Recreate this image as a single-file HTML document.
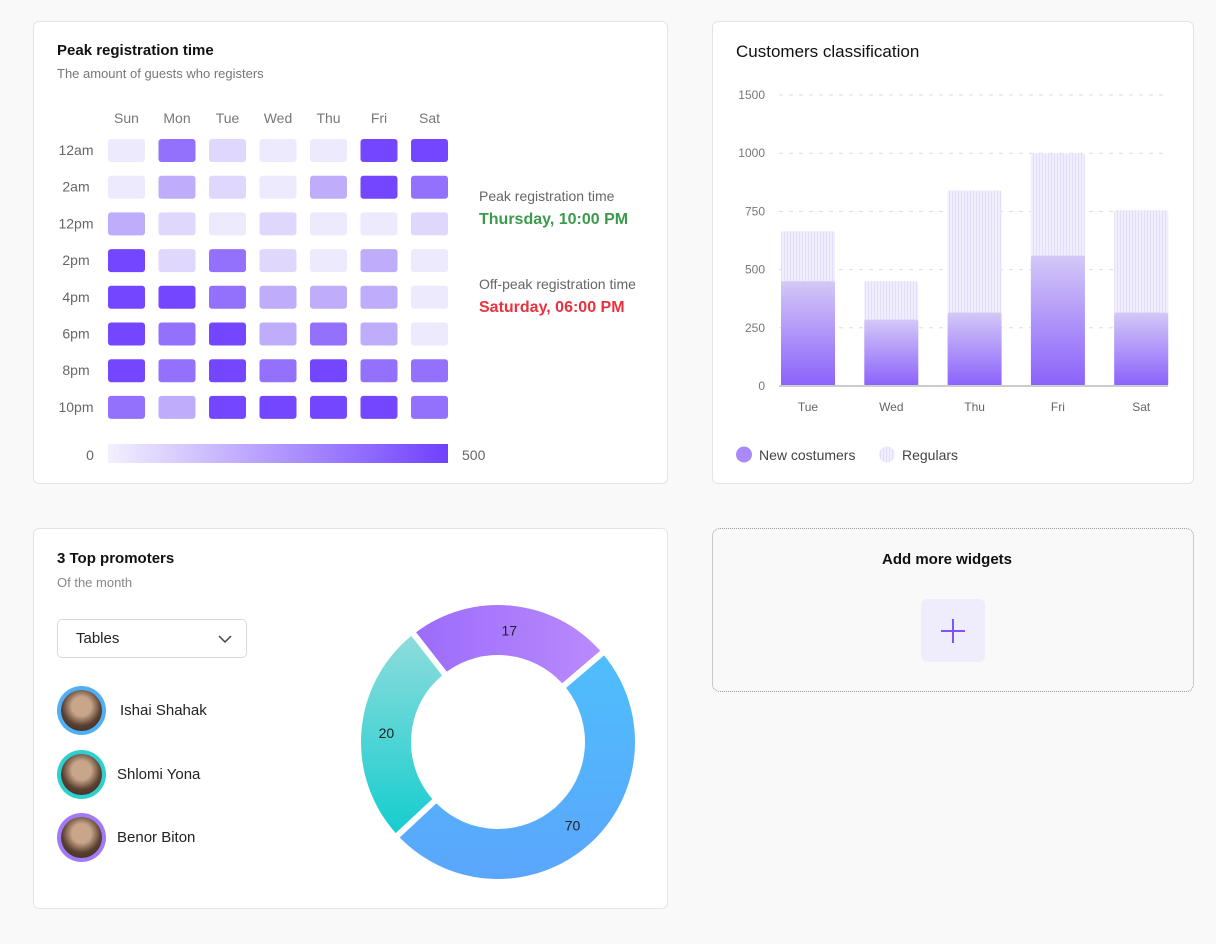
<!DOCTYPE html>
<html><head><meta charset="utf-8">
<style>
body{margin:0;width:1216px;height:944px;background:#f9f9f9;font-family:"Liberation Sans",sans-serif;position:relative;overflow:hidden}
.card{position:absolute;background:#fff;border:1px solid #e4e4e4;border-radius:6px;box-sizing:border-box}
.t{position:absolute;white-space:nowrap}
</style></head><body>
<div class="card" style="left:33px;top:21px;width:635px;height:463px"></div>
<div class="card" style="left:712px;top:21px;width:482px;height:463px"></div>
<div class="card" style="left:33px;top:528px;width:635px;height:381px"></div>
<div style="position:absolute;left:712px;top:528px;width:482px;height:164px;border:1.5px dotted #999;border-radius:8px;box-sizing:border-box"></div>

<div class="t" style="left:57px;top:42px;font-size:15px;font-weight:bold;color:#111">Peak registration time</div>
<div class="t" style="left:57px;top:66px;font-size:13px;color:#777">The amount of guests who registers</div>
<svg id="heat" style="position:absolute;left:0;top:0" width="500" height="480"></svg>
<div class="t" style="left:479px;top:188px;font-size:14px;color:#666">Peak registration time</div>
<div class="t" style="left:479px;top:211px;font-size:16px;font-weight:bold;color:#3c9a4d">Thursday, 10:00 PM</div>
<div class="t" style="left:479px;top:276px;font-size:14px;color:#666">Off-peak registration time</div>
<div class="t" style="left:479px;top:299px;font-size:16px;font-weight:bold;color:#e8323f">Saturday, 06:00 PM</div>

<div class="t" style="left:736px;top:42px;font-size:17px;color:#111">Customers classification</div>
<svg id="bars" style="position:absolute;left:700px;top:70px" width="500" height="410"></svg>

<div class="t" style="left:57px;top:550px;font-size:15px;font-weight:bold;color:#111">3 Top promoters</div>
<div class="t" style="left:57px;top:575px;font-size:13px;color:#888">Of the month</div>
<div style="position:absolute;left:57px;top:619px;width:190px;height:39px;border:1px solid #d8d8d8;border-radius:5px;box-sizing:border-box">
<span class="t" style="left:18px;top:10px;font-size:15px;color:#222">Tables</span>
<svg style="position:absolute;left:160px;top:14px" width="14" height="10"><path d="M1 2 L7 8 L13 2" stroke="#444" stroke-width="1.5" fill="none"/></svg></div>
<div id="people"></div>
<svg id="donut" style="position:absolute;left:340px;top:590px" width="320" height="310"></svg>

<div class="t" style="left:882px;top:551px;font-size:15px;font-weight:bold;color:#111">Add more widgets</div>
<div style="position:absolute;left:921px;top:599px;width:64px;height:63px;background:#efedfb;border-radius:6px">
<svg width="64" height="63"><path d="M32 20V44M20 32H44" stroke="#7b55f5" stroke-width="2"/></svg></div>

<script>
const NS="http://www.w3.org/2000/svg";
function mk(p,tag,a){const e=document.createElementNS(NS,tag);for(const k in a)e.setAttribute(k,a[k]);p.appendChild(e);return e;}
// Heatmap
const days=["Sun","Mon","Tue","Wed","Thu","Fri","Sat"];
const hours=["12am","2am","12pm","2pm","4pm","6pm","8pm","10pm"];
const heatRows=[
[100,400,200,100,100,500,500],
[100,300,200,100,300,500,400],
[300,200,100,200,100,100,200],
[500,200,400,200,100,300,100],
[500,500,400,300,300,300,100],
[500,400,500,300,400,300,100],
[500,400,500,400,500,400,400],
[400,300,500,500,500,500,400]];
const heatColors=["#eeeafd","#e0d7fd","#bfadfc","#9371fd","#7446ff"];
const hs=document.getElementById('heat');
const cx=i=>108+i*50.5, ry=j=>139+j*36.7;
days.forEach((d,i)=>{const t=mk(hs,'text',{x:cx(i)+18.5,y:123,'text-anchor':'middle','font-size':14,fill:'#777'});t.textContent=d;

});
hours.forEach((h,j)=>{const t=mk(hs,'text',{x:76,y:ry(j)+16,'text-anchor':'middle','font-size':14,fill:'#666'});t.textContent=h;

});
heatRows.forEach((row,j)=>row.forEach((v,i)=>{const lvl=Math.max(0,Math.min(4,Math.round(v/100)-1));
const r=mk(hs,'rect',{x:cx(i),y:ry(j),width:37,height:23,rx:3,fill:heatColors[lvl]});

}));
const lg=mk(hs,'defs',{});const gr=mk(lg,'linearGradient',{id:'hg'});mk(gr,'stop',{offset:0,'stop-color':'#f3f0fe'});mk(gr,'stop',{offset:1,'stop-color':'#7040ff'});
const sc=mk(hs,'rect',{x:108,y:444,width:340,height:19,fill:'url(#hg)'});


let t0=mk(hs,'text',{x:90,y:460,'text-anchor':'middle','font-size':14,fill:'#666'});t0.textContent="0";
let t1=mk(hs,'text',{x:462,y:460,'font-size':14,fill:'#666'});t1.textContent="500";

// Bar chart
const barCats=["Tue","Wed","Thu","Fri","Sat"];
const newCust=[450,285,315,560,315];
const regulars=[665,450,840,1000,755];
const yTicks=[0,250,500,750,1000,1500];
const bs=document.getElementById('bars');
const step=58.2;
const Y=v=>316-v/250*step, X=i=>81+i*83.3;
const TY=i=>316-i*step;
const bd=mk(bs,'defs',{});
const g1=mk(bd,'linearGradient',{id:'ng',x1:0,y1:0,x2:0,y2:1});mk(g1,'stop',{offset:0,'stop-color':'#d4c8f7'});mk(g1,'stop',{offset:1,'stop-color':'#8b62fb'});
const pt=mk(bd,'pattern',{id:'rp',width:3,height:4,patternUnits:'userSpaceOnUse'});mk(pt,'rect',{width:3,height:4,fill:'#f1eefd'});mk(pt,'rect',{width:1,height:4,fill:'#e3ddfb'});
yTicks.forEach((v,i)=>{const t=mk(bs,'text',{x:65,y:TY(i)+4,'text-anchor':'end','font-size':12,fill:'#777'});t.textContent=v;


if(i>0)mk(bs,'line',{x1:79,x2:468,y1:TY(i),y2:TY(i),stroke:'#ddd','stroke-dasharray':'4 6'});});
barCats.forEach((c,i)=>{
const r=mk(bs,'rect',{x:X(i),y:Y(regulars[i]),width:54,height:Y(0)-Y(regulars[i]),fill:'url(#rp)',rx:2});


const n=mk(bs,'rect',{x:X(i),y:Y(newCust[i]),width:54,height:Y(0)-Y(newCust[i]),fill:'url(#ng)',rx:2});


const t=mk(bs,'text',{x:X(i)+27,y:341,'text-anchor':'middle','font-size':12,fill:'#666'});t.textContent=c;

});
mk(bs,'line',{x1:79,x2:468,y1:Y(0),y2:Y(0),stroke:'#ccc','stroke-width':2});
mk(bs,'circle',{cx:44,cy:384.5,r:8,fill:'#a98af8'});
let l1=mk(bs,'text',{x:59,y:390,'font-size':14,fill:'#444'});l1.textContent="New costumers";


mk(bs,'circle',{cx:187,cy:384.5,r:8,fill:'url(#rp)'});
let l2=mk(bs,'text',{x:202,y:390,'font-size':14,fill:'#444'});l2.textContent="Regulars";



// Promoters
const names=["Ishai Shahak","Shlomi Yona","Benor Biton"];
const rings=["#4fb0f8","#2ecfcf","#a07af7"];
const pp=document.getElementById('people');
names.forEach((n,i)=>{const y=686+i*63.5;
const a=document.createElement('div');a.style.cssText=`position:absolute;left:57px;top:${y}px;width:49px;height:49px;border-radius:50%;background:${rings[i]};`;
a.innerHTML='<div style="position:absolute;left:4px;top:4px;width:41px;height:41px;border-radius:50%;background:radial-gradient(circle at 50% 40%,#c9a58a 0 30%,#5a4030 60%,#2a2320)"></div>';


pp.appendChild(a);
const s=document.createElement('div');s.className='t';s.textContent=n;s.style.cssText=`left:${i==0?120:117}px;top:${y+16}px;font-size:15px;color:#222`;


pp.appendChild(s);});

// Donut
const donutLabels=["17","70","20"];
const donutValues=[17,70,20];
const ds=document.getElementById('donut');
const dd=mk(ds,'defs',{});
const grads=[["#9c6cfb","#b98afd",1,0],["#4fbefb","#5aa6fd",0,1],["#16cdcf","#8edcdc",0,-1]];
grads.forEach((g,i)=>{const l=mk(dd,'linearGradient',{id:'dg'+i,x1:0,y1:0,x2:g[2]||0.0001,y2:g[3]});
if(g[3]<0){l.setAttribute('y1',1);l.setAttribute('y2',0);}
mk(l,'stop',{offset:0,'stop-color':g[0]});mk(l,'stop',{offset:1,'stop-color':g[1]});});
const C=[158,152],Ro=137,Ri=87,gap=3;
const w=donutValues.map(v=>Math.sqrt(v));const tot=w.reduce((a,b)=>a+b,0);
let ang=-38;
function P(r,a){const t=(a-90)*Math.PI/180;return [C[0]+r*Math.cos(t),C[1]+r*Math.sin(t)];}
donutValues.forEach((v,i)=>{const sw=w[i]/tot*360;const a0=ang,a1=ang+sw;ang=a1;
const go=gap/Ro*180/Math.PI, gi=gap/Ri*180/Math.PI;
const p1=P(Ro,a0+go),p2=P(Ro,a1-go),p3=P(Ri,a1-gi),p4=P(Ri,a0+gi);const lf=sw>180?1:0;
const p=mk(ds,'path',{d:`M${p1}A${Ro},${Ro} 0 ${lf} 1 ${p2}L${p3}A${Ri},${Ri} 0 ${lf} 0 ${p4}Z`,fill:`url(#dg${i})`,'stroke-linejoin':'round'});


const m=(a0+a1)/2;const lp=P(112,m);
const t=mk(ds,'text',{x:lp[0],y:lp[1]+5,'text-anchor':'middle','font-size':14,fill:'#222'});t.textContent=donutLabels[i];

});
</script>
</body></html>
